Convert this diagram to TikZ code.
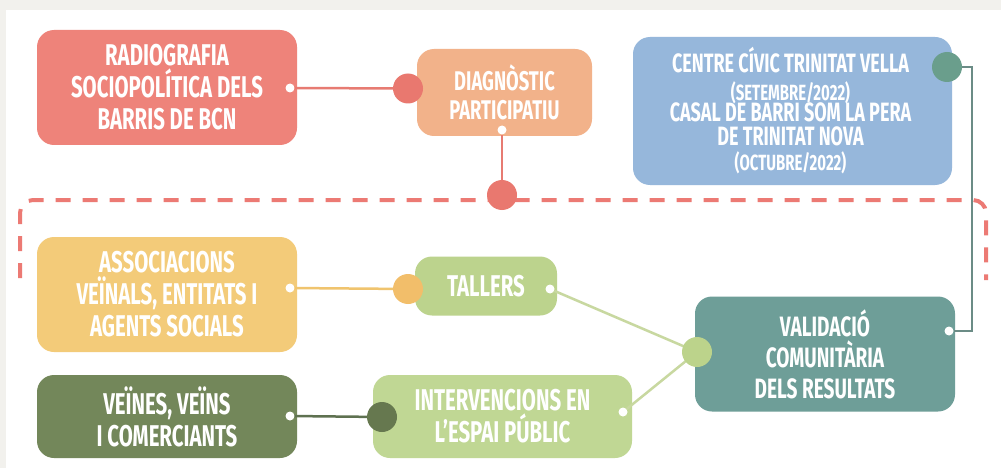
\documentclass[tikz,border=0pt]{standalone}
\usepackage{fontspec}
\setmainfont{Fira Sans}[FakeStretch=0.68]
\definecolor{bggray}{HTML}{F2F1ED}
\definecolor{cradio}{HTML}{EE837A}
\definecolor{cdiag}{HTML}{F2B28A}
\definecolor{csalm}{HTML}{E9786F}
\definecolor{cdash}{HTML}{EC7A74}
\definecolor{ccentre}{HTML}{96B7DB}
\definecolor{cteal}{HTML}{6A9E8C}
\definecolor{cvalid}{HTML}{6E9E98}
\definecolor{cassoc}{HTML}{F3CB79}
\definecolor{cyell}{HTML}{F2BE6A}
\definecolor{ctall}{HTML}{BCD38D}
\definecolor{cinter}{HTML}{C0D794}
\definecolor{cveines}{HTML}{73875A}
\definecolor{cdark}{HTML}{66784F}
\definecolor{clgreen}{HTML}{BCD38B}
\definecolor{lsalm}{HTML}{E77B72}
\definecolor{lyell}{HTML}{F0C46E}
\definecolor{ldark}{HTML}{5E7150}
\definecolor{llgreen}{HTML}{C8D8A0}
\definecolor{lteal}{HTML}{6B8C86}
\newcommand\subfont{\fontsize{22}{0}\selectfont}
\newcommand\tightlines{\lineskiplimit=-100pt\relax\lineskip=0pt\relax}
\begin{document}
\begin{tikzpicture}[x=1pt,y=-1pt,
  box/.style={rounded corners=17pt, text=white, align=center, inner sep=0pt,
    font=\bfseries\fontsize{30}{32}\selectfont},
  wdot/.style={circle, fill=white, inner sep=0pt, minimum size=9pt},
  bigdot/.style={circle, fill=#1, inner sep=0pt, minimum size=30pt},
  conn/.style={draw=#1, line width=2.5pt},
  dashframe/.style={draw=cdash, line width=4pt, dash pattern=on 15pt off 12pt, rounded corners=13pt},
  centretxt/.style={text=white, inner sep=0pt, align=center,
    font={\bfseries\fontsize{26.5}{0}\selectfont\tightlines}}
]
\useasboundingbox (0,0) rectangle (1001,468);
\fill[bggray] (0,0) rectangle (1001,468);
\fill[white] (6,10) rectangle (1001,468);

% dashed frame
\coordinate (fa) at (20,278);
\coordinate (fb) at (20,200);
\coordinate (fc) at (986,200);
\coordinate (fd) at (986,280);
\draw[dashframe] (fa) -- (fb) -- (fc) -- (fd);

% boxes
\node[box, fill=cradio, minimum width=260pt, minimum height=115pt] (radio) at (167,87.5)
  {RADIOGRAFIA\\SOCIOPOLÍTICA DELS\\BARRIS DE BCN};
\node[box, fill=cdiag, minimum width=175pt, minimum height=87pt,
  font=\bfseries\fontsize{27}{29}\selectfont] (diag) at (504.5,92.5)
  {DIAGNÒSTIC\\PARTICIPATIU};
\node[box, fill=ccentre, minimum width=319pt, minimum height=148pt] (centre) at (792.5,111) {};
\node[centretxt, anchor=base] (ctext) at (790.5,170)
  {CENTRE CÍVIC TRINITAT VELLA\\[28pt]{\subfont (SETEMBRE/2022)}\\[21.5pt]CASAL DE BARRI SOM LA PERA\\[23.5pt]DE TRINITAT NOVA\\[24.5pt]{\subfont (OCTUBRE/2022)}};

\node[box, fill=cassoc, minimum width=260pt, minimum height=115pt] (assoc) at (167,294.5)
  {ASSOCIACIONS\\VEÏNALS, ENTITATS I\\AGENTS SOCIALS};
\node[box, fill=ctall, minimum width=142pt, minimum height=59pt] (tall) at (486,286)
  {TALLERS};
\node[box, fill=cveines, minimum width=260pt, minimum height=83pt] (vein) at (167,416.5)
  {VEÏNES, VEÏNS\\I COMERCIANTS};
\node[box, fill=cinter, minimum width=259pt, minimum height=83pt] (inter) at (502.5,416.5)
  {INTERVENCIONS EN\\L’ESPAI PÚBLIC};
\node[box, fill=cvalid, minimum width=260pt, minimum height=115pt,
  font=\bfseries\fontsize{28}{31}\selectfont] (valid) at (825,354)
  {VALIDACIÓ\\COMUNITÀRIA\\DELS RESULTATS};

% dots
\node[wdot] (rdot) at (290,88) {};
\node[wdot] (ddot) at (502,130) {};
\node[wdot] (adot) at (290,288) {};
\node[wdot] (tdot) at (550,289) {};
\node[wdot] (vndot) at (290,416) {};
\node[wdot] (idot) at (623,412) {};
\node[wdot] (vdot) at (949,331) {};

% connectors
\draw[conn=lsalm] (rdot) -- (408,88.5) coordinate (dcircpos);
\draw[conn=lsalm] (ddot) -- (502,195) coordinate (fcircpos);
\draw[conn=lyell] (adot) -- (408,289) coordinate (ycircpos);
\draw[conn=ldark] (vndot) -- (382,417) coordinate (kcircpos);
\draw[conn=llgreen] (tdot) -- (697,352) coordinate (gcircpos);
\draw[conn=llgreen] (idot) -- (gcircpos);

% big circles
\node[bigdot=csalm] (dcirc) at (dcircpos) {};
\node[bigdot=csalm] (fcirc) at (fcircpos) {};
\node[bigdot=cyell] (ycirc) at (ycircpos) {};
\node[bigdot=cdark] (kcirc) at (kcircpos) {};
\node[bigdot=clgreen] (gcirc) at (gcircpos) {};
\node[bigdot=cteal] (tcirc) at (947,67) {};

% right connector
\coordinate (rbend) at (972,0);
\draw[draw=lteal, line width=2pt] (tcirc.east) -| (rbend |- vdot) -- (vdot.east);
\end{tikzpicture}
\end{document}
